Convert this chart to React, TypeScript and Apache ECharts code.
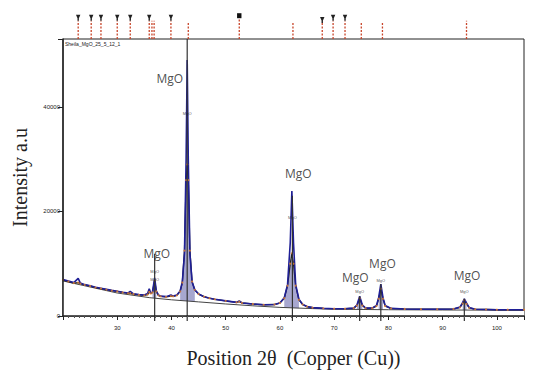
import React, { useEffect, useRef } from "react";
import * as echarts from "echarts";

// 2θ positions of the measured profile
const angles = [20,21,22,22.8,23.2,24,25,26,27,28,29,30,31,32,32.4,33,34,35,35.6,35.9,36.2,36.5,36.9,37.2,37.6,38,39,39.9,40.3,41,41.6,42.0,42.4,42.7,42.9,43.1,43.4,43.8,44.3,45,46,47,48,50,52,52.5,53,55,57,59,60,60.8,61.4,61.9,62.2,62.5,62.9,63.5,64.2,65,66,68,70,72,73.6,74.2,74.7,75.2,75.8,77,77.8,78.2,78.6,79.0,79.4,80.5,83,86,89,92,93.2,93.7,94.0,94.4,94.9,96,98,100,102,105];
// observed intensity
const observed = [7000,6700,6400,7200,6300,6000,5800,5500,5300,5100,4900,4750,4550,4400,4700,4250,4100,4000,4300,5200,4300,4600,7300,4800,4000,3800,3700,4000,3800,4000,4800,6500,12000,30000,49000,30000,12000,6500,5000,4200,3700,3400,3200,2900,2600,2900,2500,2300,2150,2200,2500,3500,6000,14000,23900,14000,6000,3200,2200,1800,1600,1450,1400,1400,1500,2100,3800,2100,1500,1500,2000,3500,6100,3500,2000,1450,1350,1300,1300,1350,1700,2600,3300,2500,1600,1300,1250,1200,1200,1200];
// calculated profile
const calculated = [6900,6600,6300,6400,6200,5950,5750,5450,5250,5050,4850,4700,4500,4350,4350,4200,4050,3950,4100,4600,4300,4500,6800,4700,3950,3750,3650,3800,3750,3950,4700,6400,12500,26000,29000,26000,12500,6600,5000,4200,3700,3400,3200,2900,2600,2750,2500,2300,2150,2200,2500,3400,5800,10000,12000,10000,5800,3100,2200,1800,1600,1450,1400,1400,1500,2000,3400,2000,1500,1500,1900,3300,5200,3300,1900,1450,1350,1300,1300,1350,1650,2400,3000,2300,1550,1300,1250,1200,1200,1200];
// background line
const bgAngles = [20, 30, 36, 40, 45, 50, 55, 60, 65, 70, 80, 90, 105];
const bgCounts = [6700, 4400, 3500, 3100, 2700, 2300, 1950, 1650, 1450, 1300, 1200, 1150, 1100];
// peak windows that are shaded
const peakWindows = [[36.5, 37.2], [41.6, 44.3], [60.8, 63.5], [74.2, 75.2], [78.2, 79.0], [93.7, 94.4]];
// reference MgO sticks
const stickAngles = [36.9, 42.9, 62.3, 74.7, 78.6, 94.0];
const stickHeights = [11900, 53000, 23000, 3800, 6100, 3300];
// big labels
const labelAngles = [37.3, 39.7, 63.4, 73.9, 78.9, 94.5];
const labelCounts = [11900, 45400, 27200, 7300, 10000, 7800];
const labelText = ["MgO", "MgO", "MgO", "MgO", "MgO", "MgO"];
// tiny labels
const tinyAngles = [42.9, 62.3, 36.9, 36.9, 74.7, 78.6, 94.0];
const tinyCounts = [38700, 18800, 8600, 6900, 4600, 6700, 4600];
// peak-list strip
const stripAngles = [22.8,25.2,27.0,30.0,32.4,35.9,36.4,36.8,39.9,43.1,52.5,62.4,67.8,69.8,72.0,75.0,78.9,94.4];
const stripMarkers = [1,1,1,1,1,1,0,0,1,0,2,0,1,1,1,0,0,0];
const stripHeights = [0.7,0.7,0.7,0.7,0.7,0.7,0.7,0.7,0.7,0.62,0.8,0.62,0.62,0.7,0.7,0.62,0.62,0.7];
const yTicks = [0, 20000, 40000];

export default function App() {
  const ref = useRef<HTMLDivElement>(null);
  useEffect(() => {
    if (!ref.current) return;
    const chart = echarts.init(ref.current, null, { renderer: "svg" });
    const obsData = angles.map((a, i) => [a, observed[i]]);
    const calcData = angles.map((a, i) => [a, calculated[i]]);
    const fillData = angles.map((a, i) =>
      peakWindows.some(([s, e]) => a >= s && a <= e) ? [a, calculated[i]] : [a, null]
    );
    const bgData = bgAngles.map((a, i) => [a, bgCounts[i]]);
    const sticks = stickAngles.map((a, i) => [a, stickHeights[i]]);
    const labels = labelAngles.map((a, i) => [a, labelCounts[i], labelText[i]]);
    const tiny = tinyAngles.map((a, i) => [a, tinyCounts[i], "MgO"]);
    const strip = stripAngles.map((a, i) => [a, stripHeights[i], stripMarkers[i]]);

    chart.setOption({
      animation: false,
      backgroundColor: "#fff",
      grid: [
        { left: 63, right: 26, top: 39, bottom: 70, show: true, borderColor: "#222", borderWidth: 1, backgroundColor: "transparent" },
        { left: 63, right: 26, top: 13, height: 26 },
      ],
      xAxis: [
        {
          type: "value", gridIndex: 0, min: 20, max: 105, interval: 10, z: 10,
          axisLine: { show: true, lineStyle: { color: "#222", width: 1.5 } },
          axisTick: { show: true, length: 4, lineStyle: { color: "#222" } },
          minorTick: { show: true, splitNumber: 10, length: 2, lineStyle: { color: "#555" } },
          splitLine: { show: false },
          axisLabel: { fontSize: 6, color: "#222", margin: 9, showMinLabel: false, showMaxLabel: false, fontFamily: "Liberation Sans" },
          name: "Position 2θ  (Copper (Cu))", nameLocation: "middle", nameGap: 32,
          nameTextStyle: { fontFamily: "Liberation Serif", fontSize: 20, color: "#222" },
        },
        { type: "value", gridIndex: 1, min: 20, max: 105, show: false },
      ],
      yAxis: [
        {
          type: "value", gridIndex: 0, min: 0, max: 53000, interval: 20000, z: 10,
          axisLine: { show: true, lineStyle: { color: "#222", width: 1.5 } },
          axisTick: { show: true, length: 5, lineStyle: { color: "#222" } },
          splitLine: { show: false },
          axisLabel: { fontSize: 6, color: "#222", margin: 3, fontFamily: "Liberation Sans",
            formatter: (v: number) => (yTicks.includes(v) ? String(v) : "") },
          name: "Intensity a.u", nameLocation: "middle", nameGap: 33, nameRotate: 90,
          nameTextStyle: { fontFamily: "Liberation Serif", fontSize: 20, color: "#222" },
        },
        { type: "value", gridIndex: 1, min: 0, max: 1, show: false },
      ],
      graphic: [
        { type: "text", left: 65, top: 41, style: { text: "Sheila_MgO_25_5_12_1", fontSize: 5, fill: "#222", fontFamily: "Liberation Sans" } },
      ],
      series: [
        {
          type: "line", data: fillData, xAxisIndex: 0, yAxisIndex: 0, symbol: "none", connectNulls: false,
          lineStyle: { width: 0 }, areaStyle: { color: "#a7a7cf", opacity: 1 }, z: 1,
        },
        {
          type: "line", data: bgData, symbol: "none", lineStyle: { color: "#444", width: 1 },
          areaStyle: { color: "#ffffff", opacity: 1 }, z: 2,
        },
        {
          type: "line", data: calcData, symbol: "none", lineStyle: { color: "#222", width: 1.3 }, z: 3,
        },
        {
          type: "line", data: obsData, symbol: "none", lineStyle: { color: "#1f1f96", width: 1.6 }, z: 4,
        },
        {
          type: "scatter", data: calcData, symbol: "circle", symbolSize: 2.2, itemStyle: { color: "#e8862a" }, z: 5,
        },
        {
          type: "custom", data: sticks, z: 6, clip: false,
          renderItem: (params: any, api: any) => {
            const x = api.value(0);
            const h = api.value(1);
            const p0 = api.coord([x, 0]);
            const p1 = api.coord([x, h]);
            return {
              type: "line",
              shape: { x1: p0[0], y1: p0[1] + 5, x2: p1[0], y2: p1[1] },
              style: { stroke: "#333", lineWidth: 1.2 },
            };
          },
        },
        {
          type: "scatter", data: tiny, symbolSize: 0, z: 7,
          label: { show: true, position: "inside", formatter: (p: any) => p.value[2], fontSize: 4, color: "#222", fontFamily: "Liberation Sans" },
        },
        {
          type: "scatter", data: labels, symbolSize: 0, z: 7,
          label: { show: true, position: "inside", formatter: (p: any) => p.value[2], fontSize: 12, color: "#222", fontFamily: "Open Sans" },
        },
        {
          type: "custom", data: strip, xAxisIndex: 1, yAxisIndex: 1, clip: false,
          renderItem: (params: any, api: any) => {
            const x = api.value(0);
            const h = api.value(1);
            const m = api.value(2);
            const p0 = api.coord([x, 0]);
            const p1 = api.coord([x, h]);
            const children: any[] = [
              { type: "line", shape: { x1: p0[0], y1: p0[1], x2: p1[0], y2: p1[1] },
                style: { stroke: "#c8452a", lineWidth: 1.3, lineDash: [2, 1.5] } },
            ];
            const px = p1[0], py = p1[1];
            if (m === 1) {
              children.push({ type: "polygon", shape: { points: [[px - 2.2, py - 6], [px + 2.2, py - 6], [px + 0.7, py - 2.5], [px + 0.7, py], [px - 0.7, py], [px - 0.7, py - 2.5]] },
                style: { fill: "#222" } });
            } else if (m === 2) {
              children.push({ type: "rect", shape: { x: px - 2.2, y: py - 5, width: 4.4, height: 5 }, style: { fill: "#111" } });
            }
            return { type: "group", children };
          },
        },
      ],
    });
    return () => chart.dispose();
  }, []);
  return <div ref={ref} style={{ position: "fixed", left: 0, top: 0, width: 550, height: 386 }} />;
}
